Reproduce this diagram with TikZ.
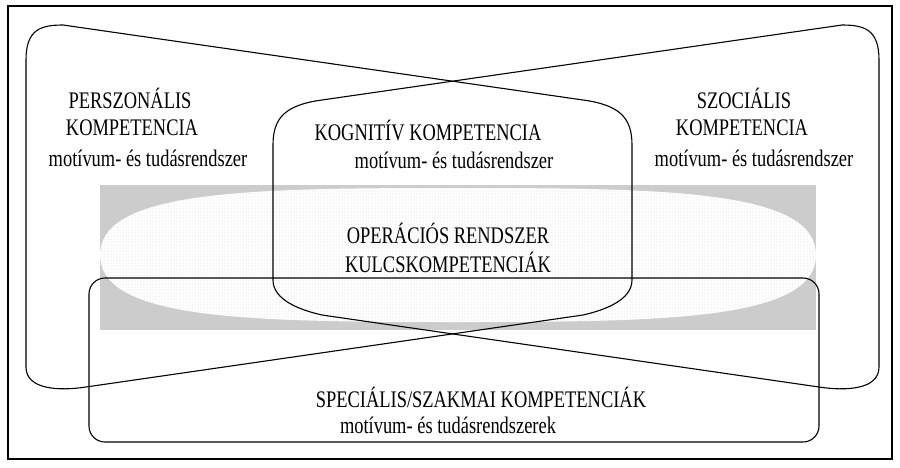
\documentclass[tikz,border=0pt]{standalone}
\usepackage{fontspec}
\setmainfont{Liberation Serif}
\usetikzlibrary{patterns}
\newcommand{\tall}[1]{\scalebox{0.97}[1.25]{#1}}
\begin{document}
\begin{tikzpicture}[x=1pt,y=-1pt,
  lbl/.style={font=\fontsize{19}{21}\selectfont, inner sep=0pt, anchor=center},
  loop/.style={draw=black, line width=1.1pt, line join=round}]
\useasboundingbox (0,0) rectangle (900,467);
\draw[line width=1.6pt] (8,6) rectangle (892,459);
% gray band
\fill[gray!40] (100,185) rectangle (816,330);
% dotted ellipse
\path[fill=white] (100,255) .. controls (100,190) and (250,188) .. (458,188)
  .. controls (666,188) and (816,190) .. (816,255)
  .. controls (816,320) and (666,322) .. (458,322)
  .. controls (250,322) and (100,320) .. (100,255) -- cycle;
\path[pattern=dots, pattern color=gray!40] (100,255) .. controls (100,190) and (250,188) .. (458,188)
  .. controls (666,188) and (816,190) .. (816,255)
  .. controls (816,320) and (666,322) .. (458,322)
  .. controls (250,322) and (100,320) .. (100,255) -- cycle;
% personal loop
\draw[loop] (26,367) -- (26,60) .. controls (26,30) and (40,25) .. (63,25)
  -- (583,100) .. controls (620,105) and (632,118) .. (632,145)
  -- (632,280) .. controls (632,300) and (605,310) .. (583,315)
  -- (86,387) .. controls (60,391) and (26,390) .. (26,367) -- cycle;
% social loop
\draw[loop] (879,367) -- (879,60) .. controls (879,30) and (865,25) .. (842,25)
  -- (322,100) .. controls (285,105) and (273,118) .. (273,145)
  -- (273,280) .. controls (273,300) and (300,310) .. (322,315)
  -- (819,387) .. controls (845,391) and (879,390) .. (879,367) -- cycle;
% special rounded rect
\draw[loop, rounded corners=16pt] (89,278) rectangle (819,442);
% texts
\node[lbl] (p1) at (130,98) {\tall{PERSZONÁLIS}};
\node[lbl] (p2) at (132,128) {\tall{KOMPETENCIA}};
\node[lbl] (p3) at (148,158) {\tall{motívum- és tudásrendszer}};
\node[lbl] (k1) at (428,130) {\tall{KOGNITÍV KOMPETENCIA}};
\node[lbl] (k2) at (454,160) {\tall{motívum- és tudásrendszer}};
\node[lbl] (s1) at (744,98) {\tall{SZOCIÁLIS}};
\node[lbl] (s2) at (742,128) {\tall{KOMPETENCIA}};
\node[lbl] (s3) at (754,158) {\tall{motívum- és tudásrendszer}};
\node[lbl] (o1) at (448,233) {\tall{OPERÁCIÓS RENDSZER}};
\node[lbl] (o2) at (448,262) {\tall{KULCSKOMPETENCIÁK}};
\node[lbl] (sp1) at (481,397) {\tall{SPECIÁLIS/SZAKMAI KOMPETENCIÁK}};
\node[lbl] (sp2) at (448,425) {\tall{motívum- és tudásrendszerek}};
\end{tikzpicture}
\end{document}
